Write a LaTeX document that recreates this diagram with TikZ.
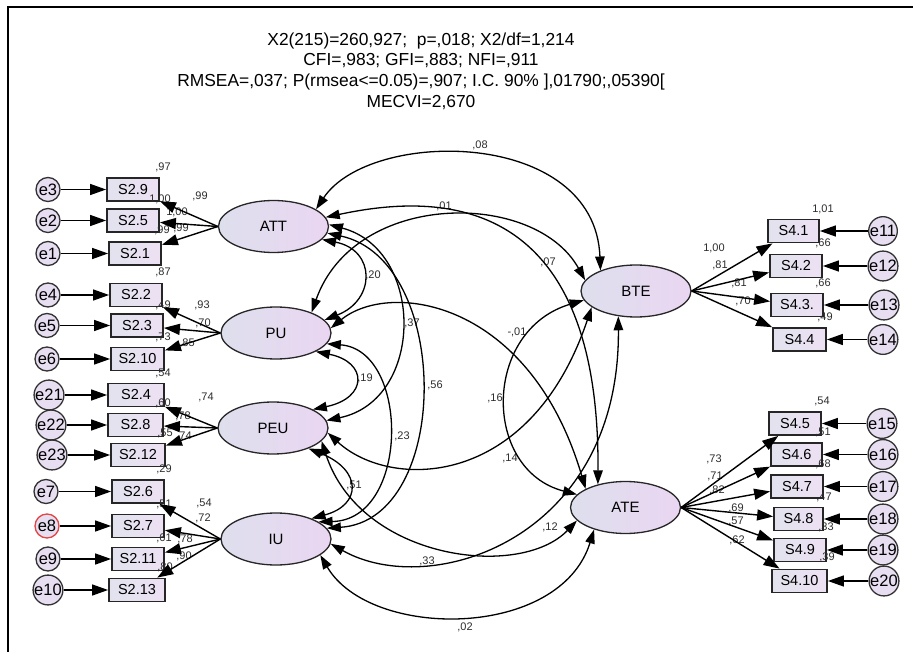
\documentclass[tikz,border=0pt]{standalone}
\usepackage{fontspec}
\setmainfont{Liberation Sans}
\usetikzlibrary{shapes.geometric,arrows.meta}
\definecolor{latL}{RGB}{222,223,237}
\definecolor{latR}{RGB}{234,214,242}
\definecolor{obsL}{RGB}{226,226,238}
\definecolor{obsR}{RGB}{237,225,243}
\definecolor{errF}{RGB}{232,222,241}
\definecolor{numC}{RGB}{45,45,45}
\definecolor{redE}{RGB}{225,70,70}
\begin{document}
\begin{tikzpicture}[x=1pt,y=-1pt,
  lat/.style={ellipse, draw=black!85, line width=1.3pt, left color=latL, right color=latR,
    minimum width=110pt, minimum height=52pt, inner sep=0pt, font=\fontsize{15}{18}\selectfont},
  obs/.style={rectangle, draw=black!85, line width=1.8pt, left color=obsL, right color=obsR,
    minimum width=52pt, minimum height=23pt, inner sep=0pt, font=\fontsize{14.5}{16}\selectfont},
  err/.style={circle, draw=black!80, line width=1.3pt, fill=errF, minimum size=24pt,
    inner sep=0pt, font=\fontsize{16.5}{18}\selectfont},
  arr/.style={-{Triangle[length=16pt,width=11pt]}, line width=1.4pt},
  cov/.style={{Triangle[length=14pt,width=9.5pt]}-{Triangle[length=14pt,width=9.5pt]}, line width=1.3pt},
  num/.style={font=\fontsize{11}{13}\selectfont, text=numC, inner sep=0pt}]
\useasboundingbox (0,0) rectangle (913,652);
\fill[white] (0,0) rectangle (913,652);
\draw[line width=2pt] (8,652) -- (8,7) -- (913,7);

% title
\node[font=\fontsize{17.4}{20.6}\selectfont, align=center] (title) at (421,71)
 {X2(215)=260,927;\ \ p=,018; X2/df=1,214\\CFI=,983; GFI=,883; NFI=,911\\RMSEA=,037; P(rmsea<=0.05)=,907; I.C. 90\% ],01790;,05390[\\MECVI=2,670};

% latent variables
\node[lat] (ATT) at (273.5,226.5) {ATT};
\node[lat] (PU) at (276,333) {PU};
\node[lat] (PEU) at (273,428) {PEU};
\node[lat] (IU) at (276,539) {IU};
\node[lat] (BTE) at (636,291) {BTE};
\node[lat] (ATE) at (625.5,507.5) {ATE};

% observed, left
\node[obs] (S29) at (133,189.5) {S2.9};
\node[obs] (S25) at (133,220.5) {S2.5};
\node[obs] (S21) at (135,253.5) {S2.1};
\node[obs] (S22) at (136,295) {S2.2};
\node[obs] (S23) at (137,325.5) {S2.3};
\node[obs,minimum width=53pt] (S210) at (137.5,359) {S2.10};
\node[obs,minimum width=56pt] (S24) at (136,395) {S2.4};
\node[obs,minimum width=55pt] (S28) at (135.5,425) {S2.8};
\node[obs,minimum width=54pt] (S212) at (138,455) {S2.12};
\node[obs] (S26) at (138,491.5) {S2.6};
\node[obs] (S27) at (138,526) {S2.7};
\node[obs] (S211) at (138,559) {S2.11};
\node[obs,minimum width=56pt] (S213) at (137,590) {S2.13};

% observed, right
\node[obs,minimum width=51pt] (S41) at (793.5,231) {S4.1};
\node[obs] (S42) at (796,266) {S4.2};
\node[obs] (S43) at (797,305) {S4.3.};
\node[obs,minimum width=53pt] (S44) at (799.5,339.5) {S4.4};
\node[obs] (S45) at (795,423.5) {S4.5};
\node[obs,minimum width=51pt] (S46) at (796.5,454.5) {S4.6};
\node[obs] (S47) at (797,486.5) {S4.7};
\node[obs,minimum width=49pt] (S48) at (798.5,519) {S4.8};
\node[obs] (S49) at (800,550) {S4.9};
\node[obs,minimum width=55pt] (S410) at (799.5,581) {S4.10};

% errors, left
\node[err] (e3) at (48,189.5) {e3};
\node[err] (e2) at (48,220.5) {e2};
\node[err] (e1) at (48,253.5) {e1};
\node[err] (e4) at (48,295) {e4};
\node[err] (e5) at (47,325.5) {e5};
\node[err] (e6) at (47,359) {e6};
\node[err] (e21) at (49,395) {e21};
\node[err] (e22) at (51,425) {e22};
\node[err] (e23) at (52,455) {e23};
\node[err] (e7) at (46,491.5) {e7};
\node[err,draw=redE] (e8) at (47,526) {e8};
\node[err] (e9) at (48,559) {e9};
\node[err] (e10) at (48,590) {e10};

% errors, right
\node[err] (e11) at (883,231) {e11};
\node[err] (e12) at (883,266) {e12};
\node[err] (e13) at (884,305) {e13};
\node[err] (e14) at (883,339.5) {e14};
\node[err] (e15) at (882,423.5) {e15};
\node[err] (e16) at (883,454.5) {e16};
\node[err] (e17) at (883,486.5) {e17};
\node[err] (e18) at (883,519) {e18};
\node[err] (e19) at (883,550) {e19};
\node[err] (e20) at (884,581) {e20};

% numbers, left
\node[num] (r29) at (163,167) {,97};
\node[num] (l29) at (200,196) {,99};
\node[num] (r25) at (160,199) {1,00};
\node[num] (l25) at (177,212) {1,00};
\node[num] (r21) at (162,230) {,99};
\node[num] (l21) at (181,228) {,99};
\node[num] (r22) at (163,272) {,87};
\node[num] (l22) at (202,305) {,93};
\node[num] (r23) at (163,305) {,49};
\node[num] (l23) at (203,323) {,70};
\node[num] (r210) at (163,337) {,73};
\node[num] (l210) at (187,343) {,85};
\node[num] (r24) at (163,373) {,54};
\node[num] (l24) at (206,397) {,74};
\node[num] (r28) at (163,403) {,60};
\node[num] (l28) at (183,416) {,78};
\node[num] (r212) at (165,433) {,55};
\node[num] (l212) at (184,436) {,74};
\node[num] (r26) at (164,469) {,29};
\node[num] (l26) at (204,503) {,54};
\node[num] (r27) at (164,504) {,51};
\node[num] (l27) at (203,518) {,72};
\node[num] (r211) at (164,538) {,61};
\node[num] (l211) at (185,539) {,78};
\node[num] (l213) at (184,556) {,90};
\node[num] (r213) at (165,567) {,80};

% numbers, right
\node[num] (r41) at (823,209) {1,01};
\node[num] (r42) at (823,243) {,66};
\node[num] (l41) at (714,248) {1,00};
\node[num] (l42) at (720,265) {,81};
\node[num] (l43) at (739,283) {,81};
\node[num] (r43) at (823,283) {,66};
\node[num] (l44) at (743,301) {,70};
\node[num] (r44) at (825,317) {,49};
\node[num] (r45) at (822,401) {,54};
\node[num] (r46) at (823,432) {,51};
\node[num] (l45) at (714,459) {,73};
\node[num] (r47) at (823,464) {,68};
\node[num] (l46) at (715,476) {,71};
\node[num] (l47) at (717,490) {,82};
\node[num] (r48) at (824,497) {,47};
\node[num] (l48) at (736,508) {,69};
\node[num] (l49) at (736,521) {,57};
\node[num] (r49) at (826,527) {,33};
\node[num] (l410) at (737,540) {,62};
\node[num] (r410) at (827,557) {,39};

% covariance labels
\node[num] (c1) at (480,145) {,08};
\node[num] (c2) at (444,206) {,01};
\node[num] (c3) at (548,262) {,07};
\node[num] (c4) at (373,275) {,20};
\node[num] (c5) at (412,323) {,37};
\node[num] (c6) at (435,385) {,56};
\node[num] (c7) at (365,378) {,19};
\node[num] (c8) at (402,436) {,23};
\node[num] (c9) at (354,485) {,51};
\node[num] (c10) at (517,332) {-,01};
\node[num] (c11) at (495,398) {,16};
\node[num] (c12) at (510,458) {,14};
\node[num] (c13) at (550,527) {,12};
\node[num] (c14) at (427,561) {,33};
\node[num] (c15) at (465,627) {,02};

% error arrows
\foreach \e/\s in {e3/S29,e2/S25,e1/S21,e4/S22,e5/S23,e6/S210,e21/S24,e22/S28,e23/S212,e7/S26,e8/S27,e9/S211,e10/S213,
  e11/S41,e12/S42,e13/S43,e14/S44,e15/S45,e16/S46,e17/S47,e18/S48,e19/S49,e20/S410}
  \draw[arr] (\e) -- (\s);

% loadings
\foreach \s in {S29,S25,S21} \draw[arr] (ATT.west) -- (\s);
\foreach \s in {S22,S23,S210} \draw[arr] (PU.west) -- (\s);
\foreach \s in {S24,S28,S212} \draw[arr] (PEU.west) -- (\s);
\foreach \s in {S26,S27,S211,S213} \draw[arr] (IU.west) -- (\s);
\foreach \s in {S41,S42,S43,S44} \draw[arr] (BTE.east) -- (\s);
\foreach \s in {S45,S46,S47,S48,S49,S410} \draw[arr] (ATE.east) -- (\s);

% covariances
\draw[cov] (ATT.22) .. controls (370,128) and (595,128) .. (BTE.150);
\draw[cov] (ATT.10) .. controls (430,195) and (600,185) .. (ATE.140);
\draw[cov] (PU.30) .. controls (355,190) and (535,190) .. (BTE.168);
\draw[cov] (PU.5) .. controls (390,280) and (530,300) .. (ATE.155);
\draw[cov] (PEU.-5) .. controls (390,490) and (530,490) .. (BTE.200);
\draw[cov] (IU.-5) .. controls (430,600) and (620,540) .. (BTE.235);
\draw[cov] (PEU.-15) .. controls (360,560) and (520,580) .. (ATE.195);
\draw[cov] (IU.-20) .. controls (370,640) and (560,640) .. (ATE.215);
\draw[cov] (BTE.190) .. controls (482,330) and (482,470) .. (ATE.165);
\draw[cov] (ATT.-15) .. controls (376,250) and (376,300) .. (PU.15);
\draw[cov] (ATT.2) .. controls (425,250) and (425,400) .. (PEU.8);
\draw[cov] (ATT.-7) .. controls (452,260) and (452,520) .. (IU.12);
\draw[cov] (PU.-25) .. controls (368,362) and (368,398) .. (PEU.25);
\draw[cov] (PU.-12) .. controls (410,350) and (410,520) .. (IU.22);
\draw[cov] (PEU.-30) .. controls (362,470) and (362,505) .. (IU.30);
\end{tikzpicture}
\end{document}
